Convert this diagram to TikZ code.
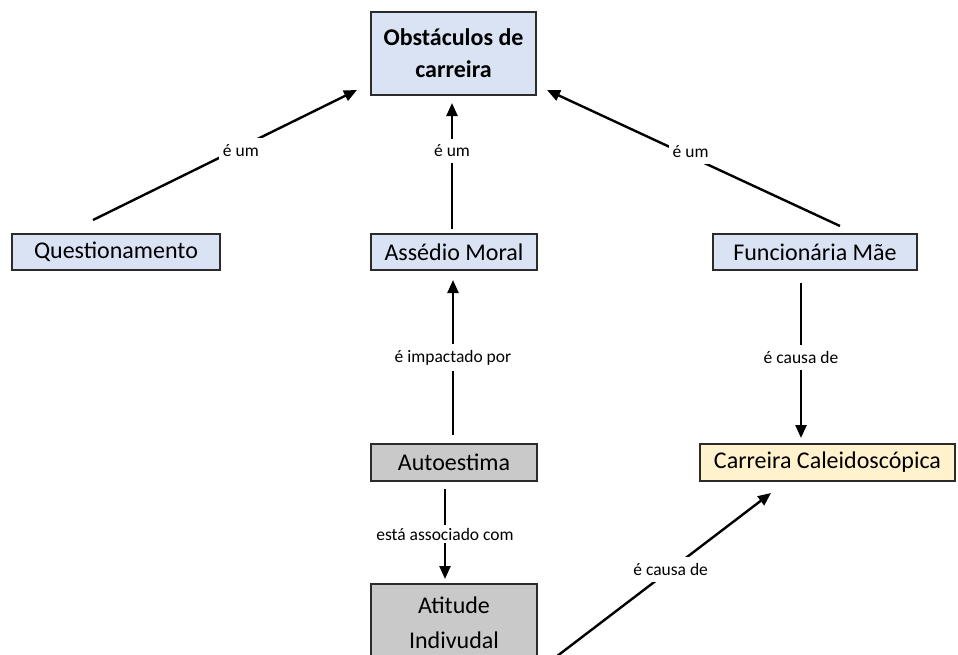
\documentclass[tikz,border=0pt]{standalone}
\usepackage{fontspec}
\setmainfont{Carlito}
\usetikzlibrary{arrows.meta,calc}
\definecolor{boxblue}{HTML}{DAE3F3}
\definecolor{boxgray}{HTML}{C9C9C9}
\definecolor{boxyellow}{HTML}{FFF2CC}
\definecolor{edgecol}{HTML}{2B2B2B}
\begin{document}
\begin{tikzpicture}[x=1pt,y=-1pt,
  concept/.style={draw=edgecol, line width=1.3pt, inner sep=0pt, align=center,
    font=\fontsize{24}{31}\selectfont},
  link/.style={line width=2.4pt, -{Triangle[length=13pt,width=11pt]}},
  lab/.style={font=\fontsize{17.5}{20}\selectfont, fill=white, inner xsep=4pt, inner ysep=6pt}]
\useasboundingbox (0,0) rectangle (958,654);
\clip (0,0) rectangle (958,654);
% nodes
\node[concept, fill=boxblue, minimum width=165pt, minimum height=83pt, font=\fontsize{24}{32}\selectfont\bfseries] (obs) at (453.5,53.5) {Obstáculos de\\carreira};
\node[concept, fill=boxblue, minimum width=208pt, minimum height=36pt] (ques) at (116,252) {Questionamento};
\node[concept, fill=boxblue, minimum width=166pt, minimum height=36pt] (ass) at (454,252) {Assédio Moral};
\node[concept, fill=boxblue, minimum width=204pt, minimum height=36pt] (fm) at (815,252) {Funcionária Mãe};
\node[concept, fill=boxgray, minimum width=166pt, minimum height=37pt] (auto) at (454,462.5) {Autoestima};
\node[concept, fill=boxyellow, minimum width=255pt, minimum height=37pt] (carr) at (827.5,462.5) {Carreira Caleidoscópica};
\node[concept, fill=boxgray, minimum width=166pt, minimum height=77pt, font=\fontsize{24}{35}\selectfont] (atit) at (454,622.5) {Atitude\\Indivudal};
% connector end points
\coordinate (q1) at (93,220);
\coordinate (o1) at (357,90);
\coordinate (a1) at (452,229);
\coordinate (o2) at (452,103);
\coordinate (f1) at (840,226);
\coordinate (o3) at (547,90);
\coordinate (au1) at (453,435);
\coordinate (a2) at (453,280);
\coordinate (f2) at (801,283);
\coordinate (c1) at (801,438);
\coordinate (au2) at (445,489);
\coordinate (at1) at (445,579);
\coordinate (at2) at (548,663);
\coordinate (c2) at (771,493);
% connectors
\draw[link] (q1) -- node[lab, pos=0.56, yshift=-3pt] {é um} (o1);
\draw[link] (a1) -- node[lab, pos=0.62] {é um} (o2);
\draw[link] (f1) -- node[lab, pos=0.51, yshift=5pt] {é um} (o3);
\draw[link] (au1) -- node[lab, pos=0.5] {é impactado por} (a2);
\draw[link] (f2) -- node[lab, pos=0.48] {é causa de} (c1);
\draw[link] (au2) -- node[lab, pos=0.5, inner ysep=3pt] {está associado com} (at1);
\draw[link] (at2) -- node[lab, pos=0.55] {é causa de} (c2);
\end{tikzpicture}
\end{document}
